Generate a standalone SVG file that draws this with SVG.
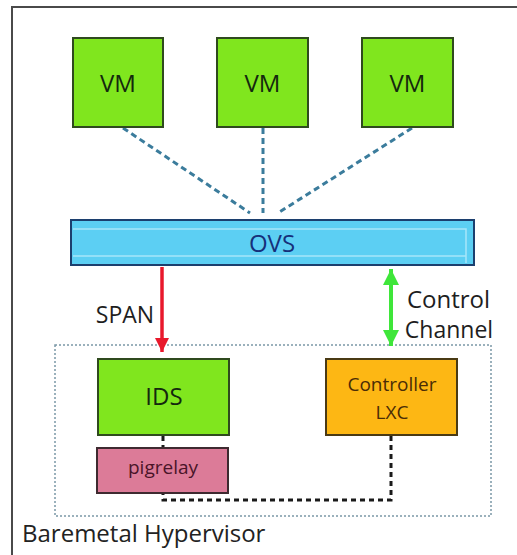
<svg xmlns="http://www.w3.org/2000/svg" width="517" height="555" viewBox="0 0 517 555">
  <style>
    .lbl { font-family: "Open Sans", "Noto Sans", "DejaVu Sans", sans-serif; text-anchor: middle; }
    .vm rect, .ids rect { fill: #80e61e; stroke: #2f4a1e; stroke-width: 2; }
    .vm text, .ids text { font-size: 24px; fill: #14280e; }
    .link { fill: none; stroke: #3b7c9c; stroke-width: 3; stroke-dasharray: 6 4; }
    .wire { fill: none; stroke: #1a1a1a; stroke-width: 3; stroke-dasharray: 5 4; }
  </style>
  <defs>
    <marker id="redHead" viewBox="0 0 10 10" refX="10" refY="5" markerWidth="4" markerHeight="4.4" orient="auto" markerUnits="strokeWidth">
      <path d="M0,0 L10,5 L0,10 z" fill="#e8192c"/>
    </marker>
    <marker id="greenHead" viewBox="0 0 10 10" refX="10" refY="5" markerWidth="4" markerHeight="4.4" orient="auto-start-reverse" markerUnits="strokeWidth">
      <path d="M0,0 L10,5 L0,10 z" fill="#3fe63a"/>
    </marker>
  </defs>

  <rect width="517" height="555" fill="#ffffff"/>

  <!-- outer frame: top and left edges only -->
  <path d="M12,555 L12,7 L517,7" fill="none" stroke="#4a4a4a" stroke-width="2"/>

  <!-- hypervisor boundary -->
  <g id="hypervisor">
    <rect x="55" y="345" width="436" height="171" fill="none" stroke="#7b98a6" stroke-width="1.5" stroke-dasharray="2 2"/>
    <text class="lbl" x="22" y="542" font-size="24" fill="#222222" style="text-anchor:start">Baremetal Hypervisor</text>
  </g>

  <g id="connectors">
    <path class="link" d="M123,128 L250,213"/>
    <path class="link" d="M263,128 L263,213"/>
    <path class="link" d="M412,128 L278,213"/>
    <line x1="162" y1="267" x2="162" y2="352" stroke="#e8192c" stroke-width="3.5" marker-end="url(#redHead)"/>
    <line x1="391" y1="269" x2="391" y2="346" stroke="#3fe63a" stroke-width="4" marker-start="url(#greenHead)" marker-end="url(#greenHead)"/>
    <path class="wire" d="M163,436 L163,448"/>
    <path class="wire" d="M391,436 L391,500 L163,500 L163,494"/>
  </g>

  <g id="vm1" class="vm">
    <rect x="73" y="38" width="90" height="89"/>
    <text class="lbl" x="118" y="92">VM</text>
  </g>
  <g id="vm2" class="vm">
    <rect x="217" y="38" width="91" height="89"/>
    <text class="lbl" x="262.5" y="92">VM</text>
  </g>
  <g id="vm3" class="vm">
    <rect x="362" y="38" width="91" height="89"/>
    <text class="lbl" x="407.5" y="92">VM</text>
  </g>

  <g id="ovs">
    <rect x="71" y="220" width="403" height="45" fill="#5ccff3" stroke="#1c3f6e" stroke-width="2"/>
    <path d="M73,229 L466,229 L466,263" fill="none" stroke="#a6e6fa" stroke-width="1.5"/>
    <path d="M73,256 L466,256" fill="none" stroke="#a6e6fa" stroke-width="1.5"/>
    <text class="lbl" x="272" y="252" font-size="24" fill="#16307a">OVS</text>
  </g>

  <text id="span-label" class="lbl" x="125" y="323" font-size="23" fill="#1e1e1e">SPAN</text>
  <g id="control-label">
    <text class="lbl" x="448.5" y="308" font-size="24" fill="#1e1e1e">Control</text>
    <text class="lbl" x="449" y="338" font-size="23" fill="#1e1e1e">Channel</text>
  </g>

  <g id="ids" class="ids">
    <rect x="98" y="359" width="131" height="76"/>
    <text class="lbl" x="164" y="405">IDS</text>
  </g>

  <g id="controller">
    <rect x="326" y="359" width="131" height="76" fill="#fdb714" stroke="#4a3a14" stroke-width="2"/>
    <text class="lbl" x="392" y="391" font-size="19" fill="#4a2c06">Controller</text>
    <text class="lbl" x="392" y="419" font-size="19" fill="#4a2c06">LXC</text>
  </g>

  <g id="pigrelay">
    <rect x="97" y="448" width="131" height="45" fill="#dc7b98" stroke="#3e2a30" stroke-width="2"/>
    <text class="lbl" x="163" y="474" font-size="19" fill="#4a1428">pigrelay</text>
  </g>
</svg>
